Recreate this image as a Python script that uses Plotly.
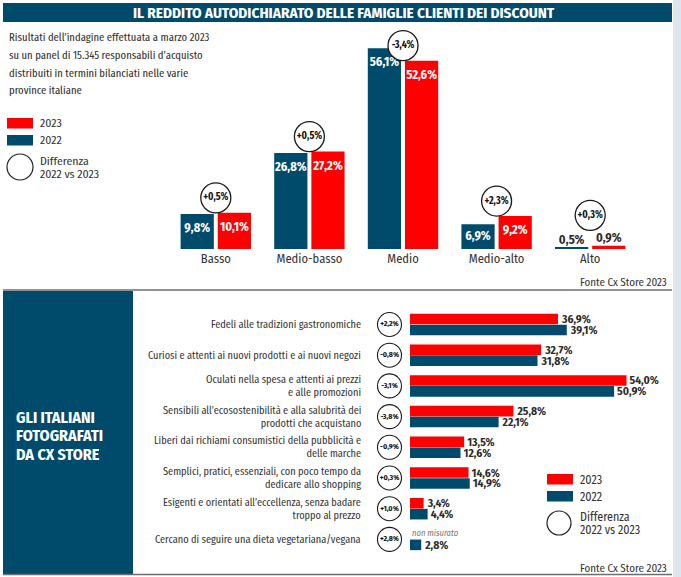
import plotly.graph_objects as go

W, H = 681, 577
TEAL = "#004b6b"
RED = "#fe0000"
DARK = "#2b2b2b"
TXT = "#333333"
FONT = "Fira Sans Condensed, Asap Condensed, sans-serif"
FONT_XC = "Fira Sans Extra Condensed, Fira Sans Condensed, sans-serif"

# ---------------- data: top chart ----------------
income_cats = ["Basso", "Medio-basso", "Medio", "Medio-alto", "Alto"]
income_2022 = [9.8, 26.8, 56.1, 6.9, 0.5]
income_2023 = [10.1, 27.2, 52.6, 9.2, 0.9]
income_diff = ["+0,5%", "+0,5%", "-3,4%", "+2,3%", "+0,3%"]

# ---------------- data: bottom chart ----------------
profile_cats = [
    "Fedeli alle tradizioni gastronomiche",
    "Curiosi e attenti ai nuovi prodotti e ai nuovi negozi",
    "Oculati nella spesa e attenti ai prezzi<br>e alle promozioni",
    "Sensibili all’ecosostenibilità e alla salubrità dei<br>prodotti che acquistano",
    "Liberi dai richiami consumistici della pubblicità e<br>delle marche",
    "Semplici, pratici, essenziali, con poco tempo da<br>dedicare allo shopping",
    "Esigenti e orientati all’eccellenza, senza badare<br>troppo al prezzo",
    "Cercano di seguire una dieta vegetariana/vegana",
]
profile_2023 = [36.9, 32.7, 54.0, 25.8, 13.5, 14.6, 3.4, None]
profile_2022 = [39.1, 31.8, 50.9, 22.1, 12.6, 14.9, 4.4, 2.8]
profile_diff = ["+2,2%", "-0,8%", "-3,1%", "-3,8%", "-0,9%", "+0,3%", "+1,0%", "+2,8%"]

panel_title = ["GLI ITALIANI", "FOTOGRAFATI", "DA CX STORE"]


def X(px):
    return px / W


def Y(py):
    return 1 - py / H


def fmt(v):
    return ("%.1f%%" % v).replace(".", ",")


fig = go.Figure()
idx = list(range(len(income_cats)))

# ---------- top chart bars ----------
bw, bg = 0.355, 0.021
fig.add_trace(go.Bar(x=idx, y=income_2022, width=bw, offset=-(bw + bg),
                     marker=dict(color=TEAL, line=dict(width=0)), xaxis="x", yaxis="y",
                     hoverinfo="skip", showlegend=False))
fig.add_trace(go.Bar(x=idx, y=income_2023, width=bw, offset=bg,
                     marker=dict(color=RED, line=dict(width=0)), xaxis="x", yaxis="y",
                     hoverinfo="skip", showlegend=False))

# value labels top chart
for vals, side in ((income_2022, -1), (income_2023, 1)):
    xs, ys, txt, cols = [], [], [], []
    for i, v in enumerate(vals):
        xs.append(i + side * (bw / 2 + bg))
        if v < 3:
            ys.append(v + 1.9)
            cols.append(DARK)
        else:
            ys.append(v - min(4.2, v / 2))
            cols.append("white")
        txt.append(fmt(v))
    fig.add_trace(go.Scatter(x=xs, y=ys, mode="text", text=txt,
                             textfont=dict(family=FONT, size=12.5, color=cols, weight="bold"),
                             xaxis="x", yaxis="y", hoverinfo="skip", showlegend=False,
                             cliponaxis=False))

# difference circles top chart
circ_y = [v + (4.2 if v >= 3 else 8.5) for v in income_2023]
fig.add_trace(go.Scatter(x=idx, y=circ_y, mode="markers+text", text=income_diff,
                         textposition="middle center",
                         marker=dict(symbol="circle", size=30, color="white",
                                     line=dict(color="#1a1a1a", width=1.3)),
                         textfont=dict(family=FONT, size=10, color="#111", weight="bold"),
                         xaxis="x", yaxis="y", hoverinfo="skip", showlegend=False,
                         cliponaxis=False))

# ---------- bottom chart bars ----------
rows = list(range(len(profile_cats)))
hw = 0.345
fig.add_trace(go.Bar(y=rows, x=profile_2023, orientation="h", width=hw, offset=-0.35,
                     marker=dict(color=RED, line=dict(width=0)),
                     text=[fmt(v) if v is not None else "" for v in profile_2023],
                     textposition="outside", constraintext="none",
                     textfont=dict(family=FONT, size=11.5, color=DARK, weight="bold"),
                     xaxis="x2", yaxis="y2", hoverinfo="skip", showlegend=False,
                     cliponaxis=False))
fig.add_trace(go.Bar(y=rows, x=profile_2022, orientation="h", width=hw, offset=0.005,
                     marker=dict(color=TEAL, line=dict(width=0)),
                     text=[fmt(v) for v in profile_2022], textposition="outside",
                     constraintext="none",
                     textfont=dict(family=FONT, size=11.5, color=DARK, weight="bold"),
                     xaxis="x2", yaxis="y2", hoverinfo="skip", showlegend=False,
                     cliponaxis=False))

# difference circles bottom chart
fig.add_trace(go.Scatter(x=[0.5] * len(rows), y=rows, mode="markers+text", text=profile_diff,
                         textposition="middle center",
                         marker=dict(symbol="circle", size=24, color="white",
                                     line=dict(color="#1a1a1a", width=1.1)),
                         textfont=dict(family=FONT, size=7.8, color="#111", weight="bold"),
                         xaxis="x3", yaxis="y2", hoverinfo="skip", showlegend=False,
                         cliponaxis=False))

# "non misurato" note for missing 2023 values
for i, v in enumerate(profile_2023):
    if v is None:
        fig.add_annotation(x=0, y=i - 0.22, xref="x2", yref="y2", text="non misurato",
                           showarrow=False, xanchor="left", yanchor="middle",
                           font=dict(family=FONT, size=8.5, color="#777", style="italic"))

# category labels bottom chart
for i, lab in enumerate(profile_cats):
    fig.add_annotation(x=X(363), y=i, xref="paper", yref="y2", text=lab, showarrow=False,
                       xanchor="right", yanchor="middle", align="right",
                       font=dict(family=FONT, size=10.3, color=TXT))

shapes = []
ann = []
# right strip
shapes.append(dict(type="rect", xref="paper", yref="paper", x0=X(673), x1=1, y0=0, y1=1,
                   fillcolor="#dde5ed", line=dict(width=0), layer="below"))
# title bar
shapes.append(dict(type="rect", xref="paper", yref="paper", x0=X(3), x1=X(672), y0=Y(22), y1=Y(3),
                   fillcolor=TEAL, line=dict(width=0), layer="below"))
ann.append(dict(x=X(344), y=Y(12.5), text="<b>IL REDDITO AUTODICHIARATO DELLE FAMIGLIE CLIENTI DEI DISCOUNT</b>",
                font=dict(family=FONT, size=15.2, color="white")))
# intro text
intro = ["Risultati dell’indagine effettuata a marzo 2023",
         "su un panel di 15.345 responsabili d’acquisto",
         "distribuiti in termini bilanciati nelle varie",
         "province italiane"]
for k, line in enumerate(intro):
    ann.append(dict(x=X(7), y=Y(37 + k * 17.8), xanchor="left", text=line,
                    font=dict(family=FONT_XC, size=11.6, color=TXT)))
# separator lines
shapes.append(dict(type="line", xref="paper", yref="paper", x0=X(3), x1=X(672), y0=Y(290), y1=Y(290),
                   line=dict(color="#6e6e6e", width=1.5)))
shapes.append(dict(type="line", xref="paper", yref="paper", x0=X(3), x1=X(672), y0=Y(574.5), y1=Y(574.5),
                   line=dict(color="#6e6e6e", width=1.5)))
# left teal panel
shapes.append(dict(type="rect", xref="paper", yref="paper", x0=X(3), x1=X(133), y0=Y(574), y1=Y(291),
                   fillcolor=TEAL, line=dict(width=0), layer="below"))
for k, line in enumerate(panel_title):
    ann.append(dict(x=X(14), y=Y(417 + k * 18.7), xanchor="left", text="<b>%s</b>" % line,
                    font=dict(family=FONT, size=16, color="white")))
# sources
ann.append(dict(x=X(669), y=Y(282), xanchor="right", text="Fonte Cx Store 2023",
                font=dict(family=FONT, size=11, color=TXT)))
ann.append(dict(x=X(669), y=Y(568), xanchor="right", text="Fonte Cx Store 2023",
                font=dict(family=FONT, size=11, color=TXT)))


def legend(x0, ytop, circ_d, fs):
    shapes.append(dict(type="rect", xref="paper", yref="paper", x0=X(x0), x1=X(x0 + 26),
                       y0=Y(ytop + 10.5), y1=Y(ytop), fillcolor=RED, line=dict(width=0)))
    shapes.append(dict(type="rect", xref="paper", yref="paper", x0=X(x0), x1=X(x0 + 26),
                       y0=Y(ytop + 27.5), y1=Y(ytop + 17), fillcolor=TEAL, line=dict(width=0)))
    cy = ytop + 49
    shapes.append(dict(type="circle", xref="paper", yref="paper", x0=X(x0), x1=X(x0 + circ_d),
                       y0=Y(cy + circ_d / 2), y1=Y(cy - circ_d / 2), line=dict(color="#222", width=1.2)))
    ann.append(dict(x=X(x0 + 31), y=Y(ytop + 5.5), xanchor="left", text="2023",
                    font=dict(family=FONT, size=fs, color=TXT)))
    ann.append(dict(x=X(x0 + 31), y=Y(ytop + 22.5), xanchor="left", text="2022",
                    font=dict(family=FONT, size=fs, color=TXT)))
    ann.append(dict(x=X(x0 + 31), y=Y(cy - 6), xanchor="left", text="Differenza",
                    font=dict(family=FONT, size=fs, color=TXT)))
    ann.append(dict(x=X(x0 + 31), y=Y(cy + 6.5), xanchor="left", text="2022 vs 2023",
                    font=dict(family=FONT, size=fs, color=TXT)))


legend(7, 118, 26, 11.8)
legend(547, 474, 24, 12)

for a in ann:
    a.setdefault("xref", "paper")
    a.setdefault("yref", "paper")
    a.setdefault("showarrow", False)
    a.setdefault("yanchor", "middle")
    fig.add_annotation(**a)

top_px = 30
base_px = 249
scale_top = 3.58
bot_top, bot_bot = 300, 560
row0, pitch = 324.5, 30.7
scale_bot = 4.01

fig.update_layout(
    width=W, height=H, margin=dict(l=0, r=0, t=0, b=0),
    paper_bgcolor="white", plot_bgcolor="rgba(0,0,0,0)",
    barmode="overlay", shapes=shapes,
    font=dict(family=FONT),
    xaxis=dict(domain=[X(169), X(637)], range=[-0.5, 4.5], showgrid=False, zeroline=False,
               showline=False, ticks="", tickvals=idx, ticktext=income_cats,
               tickfont=dict(family=FONT, size=12.5, color=TXT),
               anchor="y", fixedrange=True),
    yaxis=dict(domain=[Y(base_px), Y(top_px)], range=[0, (base_px - top_px) / scale_top],
               visible=False, fixedrange=True),
    xaxis2=dict(domain=[X(410), X(672)], range=[0, (672 - 410) / scale_bot], visible=False,
                anchor="y2", fixedrange=True),
    yaxis2=dict(domain=[Y(bot_bot), Y(bot_top)],
                range=[(bot_bot - row0) / pitch, -(row0 - bot_top) / pitch],
                visible=False, anchor="x2", fixedrange=True),
    xaxis3=dict(domain=[X(377), X(402)], range=[0, 1], visible=False, anchor="y2", fixedrange=True),
)

fig.write_html("out.html", config={"displayModeBar": False},
               post_script="document.body.style.margin='0';document.body.style.overflow='hidden';")
